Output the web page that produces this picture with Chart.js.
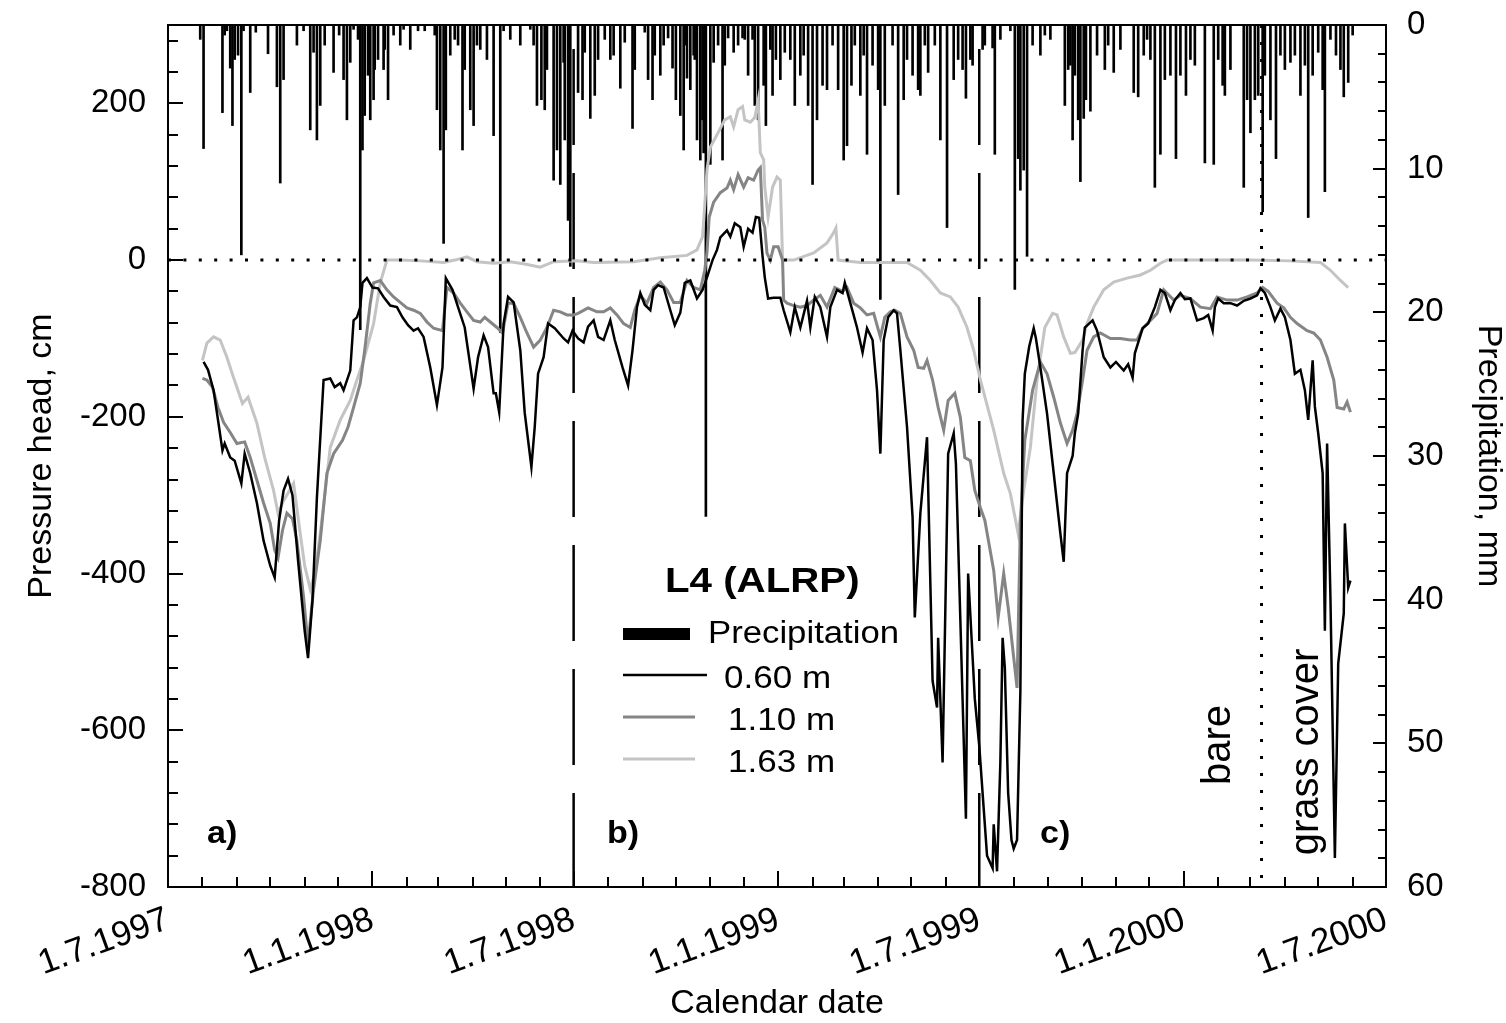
<!DOCTYPE html>
<html>
<head>
<meta charset="utf-8">
<script src="https://cdn.jsdelivr.net/npm/chart.js@4.4.0/dist/chart.umd.min.js"></script>
<style>
  html, body { margin: 0; background: #fff; }
</style>
</head>
<body>
<canvas id="chart" width="1506" height="1023"></canvas>
<script>
// x values are days counted from 1.7.1997
const tickDays = [0, 184, 365, 549, 730, 914, 1096];
const tickLabels = ['1.7.1997', '1.1.1998', '1.7.1998', '1.1.1999', '1.7.1999', '1.1.2000', '1.7.2000'];
const monthDays = [0, 31, 62, 92, 123, 153, 184, 215, 243, 274, 304, 335, 365, 396, 427, 457, 488, 518,
  549, 580, 608, 639, 669, 700, 730, 761, 792, 822, 853, 883, 914, 945, 974, 1005, 1035, 1066, 1096];
const headTicks = [-800, -600, -400, -200, 0, 200];
const precipTicks = [0, 10, 20, 30, 40, 50, 60];

const periodBreaks = [365, 730];   // a) | b) | c)
const coverChangeDay = 984;        // bare -> grass cover

// daily precipitation, mm
const precipDay = [29, 32, 49, 51, 53, 56, 58, 60, 63, 66, 68, 74, 79, 90, 98, 101, 104, 116, 122, 128,
  131, 134, 137, 141, 149, 154, 158, 161, 164, 167, 171, 173, 175, 177, 180, 182, 185, 186, 189, 194,
  195, 198, 203, 209, 212, 218, 225, 231, 240, 242, 245, 248, 250, 254, 258, 261, 265, 267, 272, 275,
  278, 281, 287, 293, 299, 302, 308, 317, 326, 329, 332, 336, 339, 341, 347, 350, 353, 356, 357, 360,
  362, 369, 373, 375, 380, 384, 387, 393, 398, 401, 407, 411, 418, 420, 429, 432, 436, 438, 443, 446,
  450, 454, 457, 461, 464, 465, 467, 470, 473, 474, 476, 479, 481, 482, 484, 488, 491, 495, 499, 501,
  504, 509, 513, 517, 519, 522, 526, 528, 531, 536, 538, 542, 544, 547, 551, 555, 560, 564, 569, 572,
  576, 580, 584, 589, 593, 598, 603, 608, 611, 615, 618, 623, 626, 629, 634, 639, 641, 645, 652, 657,
  662, 665, 670, 675, 677, 681, 684, 690, 695, 701, 707, 711, 715, 718, 722, 724, 733, 735, 742, 744,
  749, 758, 762, 765, 767, 770, 773, 778, 785, 789, 794, 807, 810, 812, 814, 816, 819, 821, 824, 826,
  830, 836, 843, 846, 851, 857, 869, 873, 878, 881, 884, 888, 893, 897, 902, 907, 911, 916, 920, 924,
  933, 941, 945, 949, 951, 956, 968, 971, 974, 978, 981, 985, 987, 992, 997, 1001, 1005, 1010, 1014, 1019,
  1023, 1026, 1030, 1035, 1039, 1041, 1046, 1051, 1055, 1058, 1062, 1066];
const precipMm = [1.0, 8.6, 6.1, 0.7, 0.4, 3.0, 7.0, 2.4, 2.1, 16.0, 0.4, 4.7, 0.5, 2.0, 4.3, 11.0, 3.8, 1.4, 0.4, 7.3,
  1.9, 8.0, 5.6, 1.4, 3.3, 0.7, 3.8, 6.6, 2.6, 0.3, 1.0, 21.2, 8.7, 6.3, 3.5, 6.6, 5.2, 3.1, 2.4, 3.1,
  1.7, 5.2, 0.7, 1.4, 0.3, 1.7, 0.4, 0.4, 0.7, 5.9, 8.7, 15.2, 7.3, 2.1, 1.0, 1.4, 8.7, 3.1, 5.9, 7.0,
  1.4, 1.7, 2.4, 7.7, 21.4, 0.4, 1.0, 1.4, 0.3, 1.4, 5.6, 5.2, 5.9, 3.1, 10.8, 8.7, 11.1, 2.6, 8.0, 13.6,
  16.8, 4.7, 5.2, 1.9, 6.5, 4.9, 2.4, 1.0, 2.4, 2.1, 4.4, 1.2, 7.2, 3.1, 0.5, 3.8, 5.2, 2.1, 3.5, 1.4,
  0.9, 3.0, 5.2, 6.3, 8.7, 1.4, 3.7, 4.5, 2.1, 2.4, 8.0, 9.4, 6.6, 8.9, 34.2, 9.7, 2.6, 1.4, 9.4, 2.8,
  0.9, 1.9, 1.4, 0.9, 1.0, 3.5, 1.0, 5.6, 6.6, 4.2, 7.0, 1.7, 4.9, 2.4, 3.8, 1.9, 2.4, 5.6, 3.5, 2.1,
  5.6, 11.1, 6.6, 4.2, 4.5, 1.4, 4.5, 9.4, 8.4, 4.2, 1.4, 4.9, 2.1, 9.0, 2.8, 4.5, 19.1, 5.6, 1.4, 11.8,
  5.2, 2.4, 3.5, 4.5, 4.9, 1.4, 3.3, 1.4, 8.0, 14.1, 3.8, 2.4, 3.1, 5.1, 2.4, 2.8, 1.7, 1.4, 1.6, 9.0,
  1.0, 0.4, 18.4, 9.3, 11.5, 10.1, 16.1, 1.4, 2.1, 0.7, 1.0, 5.6, 3.1, 2.8, 8.0, 3.5, 6.6, 10.9, 6.5, 5.2,
  6.0, 2.1, 3.1, 1.4, 3.3, 1.7, 4.7, 5.0, 2.1, 1.0, 2.4, 11.3, 9.0, 3.8, 3.5, 9.3, 3.5, 4.9, 2.4, 2.8,
  9.6, 9.7, 2.4, 4.2, 4.9, 3.1, 11.3, 5.2, 7.5, 5.2, 4.9, 13.0, 3.5, 6.6, 9.3, 2.1, 3.1, 2.6, 2.1, 4.9,
  2.8, 13.4, 3.5, 1.9, 4.5, 11.6, 1.0, 2.1, 3.1, 5.0, 4.0, 0.7];

// pressure head at 0.60 m, cm
const day060 = [32, 36, 41, 45, 49, 51, 56, 60, 66, 69, 74, 80, 86, 92, 96, 100, 104, 108, 112, 117,
  123, 126, 130, 134, 140, 146, 150, 155, 158, 164, 167, 170, 173, 175, 179, 184, 189, 194, 200, 206,
  211, 216, 221, 225, 230, 236, 242, 247, 250, 256, 261, 267, 275, 279, 284, 288, 293, 295, 298, 302,
  306, 311, 317, 321, 327, 330, 333, 338, 342, 348, 356, 360, 364, 369, 374, 378, 383, 387, 392, 398,
  402, 409, 414, 418, 422, 425, 429, 434, 437, 441, 446, 452, 456, 461, 465, 470, 476, 481, 485, 490,
  494, 497, 503, 506, 510, 515, 518, 522, 526, 529, 532, 535, 537, 540, 545, 551, 554, 560, 564, 569,
  575, 578, 582, 587, 593, 596, 602, 607, 609, 614, 620, 625, 629, 634, 638, 641, 644, 648, 653, 656,
  659, 665, 670, 672, 677, 683, 688, 692, 693, 697, 702, 707, 709, 713, 718, 720, 723, 726, 730, 734,
  737, 742, 743, 746, 749, 751, 753, 756, 759, 761, 764, 767, 769, 771, 775, 779, 781, 785, 791, 797,
  803, 806, 809, 814, 816, 819, 823, 825, 832, 836, 842, 848, 853, 860, 864, 868, 870, 877, 882, 888,
  893, 897, 902, 906, 911, 915, 920, 926, 932, 936, 940, 942, 945, 950, 956, 962, 968, 974, 980, 983,
  987, 992, 996, 1001, 1005, 1010, 1014, 1019, 1023, 1026, 1030, 1032, 1035, 1039, 1041, 1043, 1046, 1050, 1053, 1058,
  1059, 1062, 1064];
const head060 = [-130, -140, -166, -204, -243, -234, -252, -256, -285, -247, -272, -310, -358, -390, -405, -332, -294, -279, -300, -383,
  -473, -508, -434, -303, -153, -151, -162, -157, -166, -141, -77, -73, -60, -29, -23, -35, -36, -47, -58, -60,
  -73, -83, -90, -87, -98, -137, -185, -137, -23, -38, -60, -86, -164, -124, -96, -111, -170, -170, -194, -81,
  -47, -54, -115, -195, -264, -213, -145, -124, -81, -87, -100, -105, -90, -100, -105, -85, -77, -98, -102, -77,
  -102, -137, -160, -115, -60, -42, -57, -64, -38, -32, -35, -64, -83, -67, -29, -26, -49, -38, -22, 0,
  13, 29, 38, 30, 47, 42, 17, 40, 35, 55, 54, 5, -22, -49, -48, -48, -64, -92, -60, -86,
  -52, -86, -47, -60, -98, -60, -38, -42, -29, -55, -86, -118, -87, -102, -166, -247, -102, -73, -64, -68,
  -115, -213, -328, -456, -323, -226, -537, -571, -482, -641, -247, -221, -260, -460, -713, -400, -480, -560, -620, -700,
  -760, -776, -720, -780, -640, -482, -520, -680, -740, -751, -740, -550, -204, -145, -110, -87, -100, -137, -196, -272,
  -349, -385, -272, -250, -221, -196, -115, -86, -77, -90, -124, -137, -130, -141, -133, -150, -119, -87, -81, -60,
  -38, -42, -64, -51, -42, -50, -49, -77, -74, -70, -90, -60, -49, -55, -55, -58, -52, -49, -45, -36,
  -42, -60, -77, -62, -73, -102, -145, -140, -166, -204, -128, -187, -221, -272, -473, -234, -431, -763, -515, -451,
  -336, -418, -409];

// pressure head at 1.10 m, cm
const day110 = [31, 35, 40, 45, 50, 56, 62, 69, 74, 80, 86, 92, 96, 99, 103, 107, 112, 116, 122, 126,
  131, 137, 143, 149, 157, 162, 167, 173, 177, 182, 185, 191, 197, 203, 209, 215, 221, 227, 233, 239,
  247, 251, 257, 263, 269, 275, 281, 285, 290, 296, 301, 306, 311, 317, 323, 329, 335, 341, 347, 353,
  359, 365, 369, 378, 386, 392, 398, 404, 410, 416, 420, 425, 431, 437, 443, 449, 455, 461, 467, 473,
  479, 483, 485, 487, 491, 497, 503, 506, 509, 513, 518, 522, 527, 531, 533, 535, 537, 539, 542, 545,
  549, 553, 554, 557, 563, 569, 575, 581, 587, 593, 600, 607, 611, 617, 623, 629, 635, 641, 645, 650,
  654, 659, 665, 671, 675, 680, 683, 688, 693, 698, 702, 708, 713, 717, 722, 726, 731, 735, 743, 747,
  752, 756, 764, 767, 771, 778, 785, 791, 797, 803, 809, 814, 818, 823, 827, 833, 839, 848, 857, 866,
  872, 877, 884, 890, 896, 905, 911, 920, 929, 938, 944, 953, 962, 971, 980, 985, 990, 998, 1004, 1010,
  1016, 1025, 1031, 1037, 1043, 1049, 1052, 1058, 1061, 1064];
const head110 = [-151, -153, -162, -188, -207, -220, -234, -232, -252, -281, -310, -336, -370, -380, -345, -323, -330, -358, -430, -490,
  -420, -358, -272, -247, -230, -213, -188, -157, -115, -55, -29, -26, -38, -47, -54, -61, -64, -68, -79, -87,
  -90, -35, -42, -55, -66, -77, -79, -73, -79, -86, -93, -55, -55, -73, -93, -111, -102, -86, -64, -66,
  -70, -70, -68, -61, -66, -66, -61, -70, -81, -86, -64, -45, -55, -35, -28, -38, -54, -54, -26, -35,
  -38, -13, 10, 55, 74, 86, 92, 102, 90, 109, 93, 105, 102, 115, 118, 51, 42, 9, 0, 17,
  17, 0, -51, -55, -58, -60, -58, -51, -45, -60, -35, -40, -35, -55, -61, -70, -68, -98, -73, -66,
  -64, -68, -98, -115, -137, -138, -128, -153, -188, -217, -179, -170, -201, -252, -256, -294, -316, -332, -396, -456,
  -400, -443, -546, -336, -230, -166, -130, -145, -175, -208, -234, -217, -196, -153, -115, -98, -93, -100, -100, -102,
  -102, -87, -77, -68, -38, -51, -45, -49, -60, -62, -47, -51, -51, -47, -42, -35, -40, -55, -61, -73,
  -81, -90, -93, -102, -124, -153, -188, -190, -181, -194];

// pressure head at 1.63 m, cm
const day163 = [31, 35, 41, 47, 53, 59, 67, 72, 80, 87, 95, 99, 104, 113, 119, 123, 128, 132, 137, 146,
  155, 164, 170, 176, 185, 191, 197, 209, 227, 248, 258, 269, 278, 293, 308, 321, 335, 347, 368, 383,
  419, 443, 467, 476, 481, 483, 485, 488, 494, 501, 506, 509, 513, 517, 519, 524, 528, 531, 533, 536,
  537, 540, 544, 548, 551, 553, 563, 581, 593, 599, 601, 603, 623, 665, 677, 686, 695, 704, 711, 719,
  725, 731, 743, 752, 758, 765, 770, 776, 782, 789, 796, 800, 806, 812, 816, 823, 827, 833, 842, 851,
  863, 875, 884, 893, 899, 929, 974, 1010, 1037, 1046, 1055, 1062];
const head163 = [-128, -106, -98, -102, -124, -150, -183, -175, -208, -252, -294, -323, -307, -285, -349, -390, -420, -400, -349, -239,
  -204, -179, -153, -128, -81, -29, 0, 0, -1, -3, 0, 4, -2, -4, -2, -5, -9, -2, -1, -3,
  -2, 3, 6, 13, 30, 70, 115, 144, 160, 179, 183, 170, 192, 196, 179, 176, 182, 204, 137, 128,
  93, 55, 93, 106, 102, 0, 0, 9, 22, 35, 41, 0, -3, -3, -13, -26, -42, -47, -60, -86,
  -115, -153, -217, -272, -298, -349, -294, -239, -153, -86, -68, -70, -98, -119, -118, -102, -81, -60, -38, -28,
  -23, -19, -13, -4, 0, 0, 0, -1, -3, -13, -26, -35];

const FONT = '"Liberation Sans", Arial, Helvetica, sans-serif';
Chart.defaults.font.family = FONT;
Chart.defaults.color = '#000';

const pts = (xs, ys) => xs.map((x, i) => ({ x, y: ys[i] }));
const vline = (d) => [{ x: d, y: 300 }, { x: d, y: -800 }];

// scales keep a fixed box so the plot frame lands where the original has it
const fixBox = (w, h) => s => {
  if (w) s.width = w;
  if (h) s.height = h;
  s.paddingTop = 0; s.paddingBottom = 0; s.paddingLeft = 0; s.paddingRight = 0;
};

function text(ctx, str, x, y, size, o = {}) {
  ctx.save();
  ctx.translate(x, y);
  ctx.scale(o.sx || 1, 1);
  if (o.rot) ctx.rotate(o.rot);
  ctx.font = (o.bold ? 'bold ' : '') + size + 'px ' + FONT;
  ctx.textAlign = o.align || 'left';
  ctx.textBaseline = 'alphabetic';
  ctx.fillStyle = '#000';
  ctx.fillText(str, 0, 0);
  ctx.restore();
}

const decorations = {
  id: 'decorations',
  afterDraw(chart) {
    const { ctx, chartArea: a, scales } = chart;
    ctx.save();
    ctx.strokeStyle = '#000';
    ctx.lineWidth = 2;
    ctx.strokeRect(a.left, a.top, a.right - a.left, a.bottom - a.top);

    // inward tick marks
    ctx.beginPath();
    for (let v = -800; v <= 300; v += 40) {
      const y = Math.round(scales.y.getPixelForValue(v));
      ctx.moveTo(a.left, y);
      ctx.lineTo(a.left + (v % 200 === 0 ? 15 : 10), y);
    }
    for (let v = 0; v <= 60; v += 2) {
      const y = Math.round(scales.y2.getPixelForValue(v));
      ctx.moveTo(a.right, y);
      ctx.lineTo(a.right - (v % 10 === 0 ? 13 : 8), y);
    }
    monthDays.forEach(d => {
      const x = Math.round(scales.x.getPixelForValue(d));
      ctx.moveTo(x, a.bottom);
      ctx.lineTo(x, a.bottom - (tickDays.includes(d) ? 16 : 10));
    });
    ctx.stroke();

    // legend
    const lx = 623;
    text(ctx, 'L4 (ALRP)', 665, 592, 35, { bold: true, sx: 1.15 });
    ctx.fillStyle = '#000';
    ctx.fillRect(lx, 628, 67, 12);
    text(ctx, 'Precipitation', 708, 643, 31, { sx: 1.12 });
    const rows = [
      ['0.60 m', '#000', 2.5, 707, 724, 688, 675],
      ['1.10 m', '#858585', 3, 695, 728, 730, 717],
      ['1.63 m', '#c4c4c4', 3, 695, 728, 772, 759]
    ];
    rows.forEach(([lab, col, w, x2, tx, ty, ly]) => {
      ctx.strokeStyle = col;
      ctx.lineWidth = w;
      ctx.beginPath();
      ctx.moveTo(lx, ly);
      ctx.lineTo(x2, ly);
      ctx.stroke();
      text(ctx, lab, tx, ty, 31, { sx: 1.13 });
    });

    // panel labels and cover notes
    text(ctx, 'a)', 207, 843, 31, { bold: true, sx: 1.1 });
    text(ctx, 'b)', 607, 843, 31, { bold: true, sx: 1.1 });
    text(ctx, 'c)', 1040, 843, 31, { bold: true, sx: 1.1 });
    text(ctx, 'bare', 1230, 745, 40, { rot: -Math.PI / 2, align: 'center' });
    text(ctx, 'grass cover', 1318, 752, 40, { rot: -Math.PI / 2, align: 'center' });
    ctx.restore();
  }
};

new Chart(document.getElementById('chart'), {
  type: 'line',
  data: {
    datasets: [
      { data: [{ x: 0, y: 0 }, { x: 1096, y: 0 }], borderColor: '#000', borderWidth: 3,
        borderDash: [3, 12.4], pointRadius: 0, order: 0 },
      { data: vline(coverChangeDay), borderColor: '#000', borderWidth: 3,
        borderDash: [3, 14], pointRadius: 0, order: 1 },
      { label: '0.60 m', data: pts(day060, head060), borderColor: '#000', borderWidth: 2.5,
        pointRadius: 0, order: 2 },
      { label: '1.10 m', data: pts(day110, head110), borderColor: '#858585', borderWidth: 3,
        pointRadius: 0, order: 3 },
      { label: '1.63 m', data: pts(day163, head163), borderColor: '#c4c4c4', borderWidth: 3,
        pointRadius: 0, order: 4 },
      ...periodBreaks.map(d => ({ data: vline(d), borderColor: '#000', borderWidth: 2.5,
        borderDash: [96, 28], borderDashOffset: 100, pointRadius: 0, order: 5 })),
      { type: 'bar', label: 'Precipitation', data: pts(precipDay, precipMm), yAxisID: 'y2',
        backgroundColor: '#000', barThickness: 2, grouped: false, order: 6 }
    ]
  },
  options: {
    responsive: false,
    animation: false,
    devicePixelRatio: 1,
    layout: { padding: { top: 25, left: 0, right: 0, bottom: 0 } },
    plugins: { legend: { display: false }, tooltip: { enabled: false } },
    scales: {
      x: {
        type: 'linear', min: 0, max: 1096, offset: false,
        grid: { display: false }, border: { display: false },
        afterBuildTicks: s => { s.ticks = tickDays.map(v => ({ value: v })); },
        afterFit: fixBox(0, 136),
        ticks: { autoSkip: false, minRotation: 20, maxRotation: 20, padding: 4,
          font: { size: 35 }, color: '#000', callback: (v, i) => tickLabels[i] },
        title: { display: true, text: 'Calendar date', color: '#000',
          font: { size: 34, lineHeight: 1 }, padding: { top: 0, bottom: 2 } }
      },
      y: {
        type: 'linear', position: 'left', min: -800, max: 300,
        grid: { display: false }, border: { display: false },
        afterBuildTicks: s => { s.ticks = headTicks.map(v => ({ value: v })); },
        afterFit: fixBox(168, 0),
        ticks: { padding: 14, font: { size: 33 }, color: '#000', callback: v => String(v) },
        title: { display: true, text: 'Pressure head, cm', color: '#000',
          font: { size: 34, lineHeight: 1 }, padding: { top: 25, bottom: 0 } }
      },
      y2: {
        type: 'linear', position: 'right', min: 0, max: 60, reverse: true,
        grid: { display: false }, border: { display: false },
        afterBuildTicks: s => { s.ticks = precipTicks.map(v => ({ value: v })); },
        afterFit: fixBox(120, 0),
        ticks: { padding: 13, font: { size: 33 }, color: '#000', callback: v => String(v) },
        title: { display: true, text: 'Precipitation, mm', color: '#000',
          font: { size: 34, lineHeight: 1 }, padding: { top: 1, bottom: 0 } }
      }
    }
  },
  plugins: [decorations]
});
</script>
</body>
</html>
